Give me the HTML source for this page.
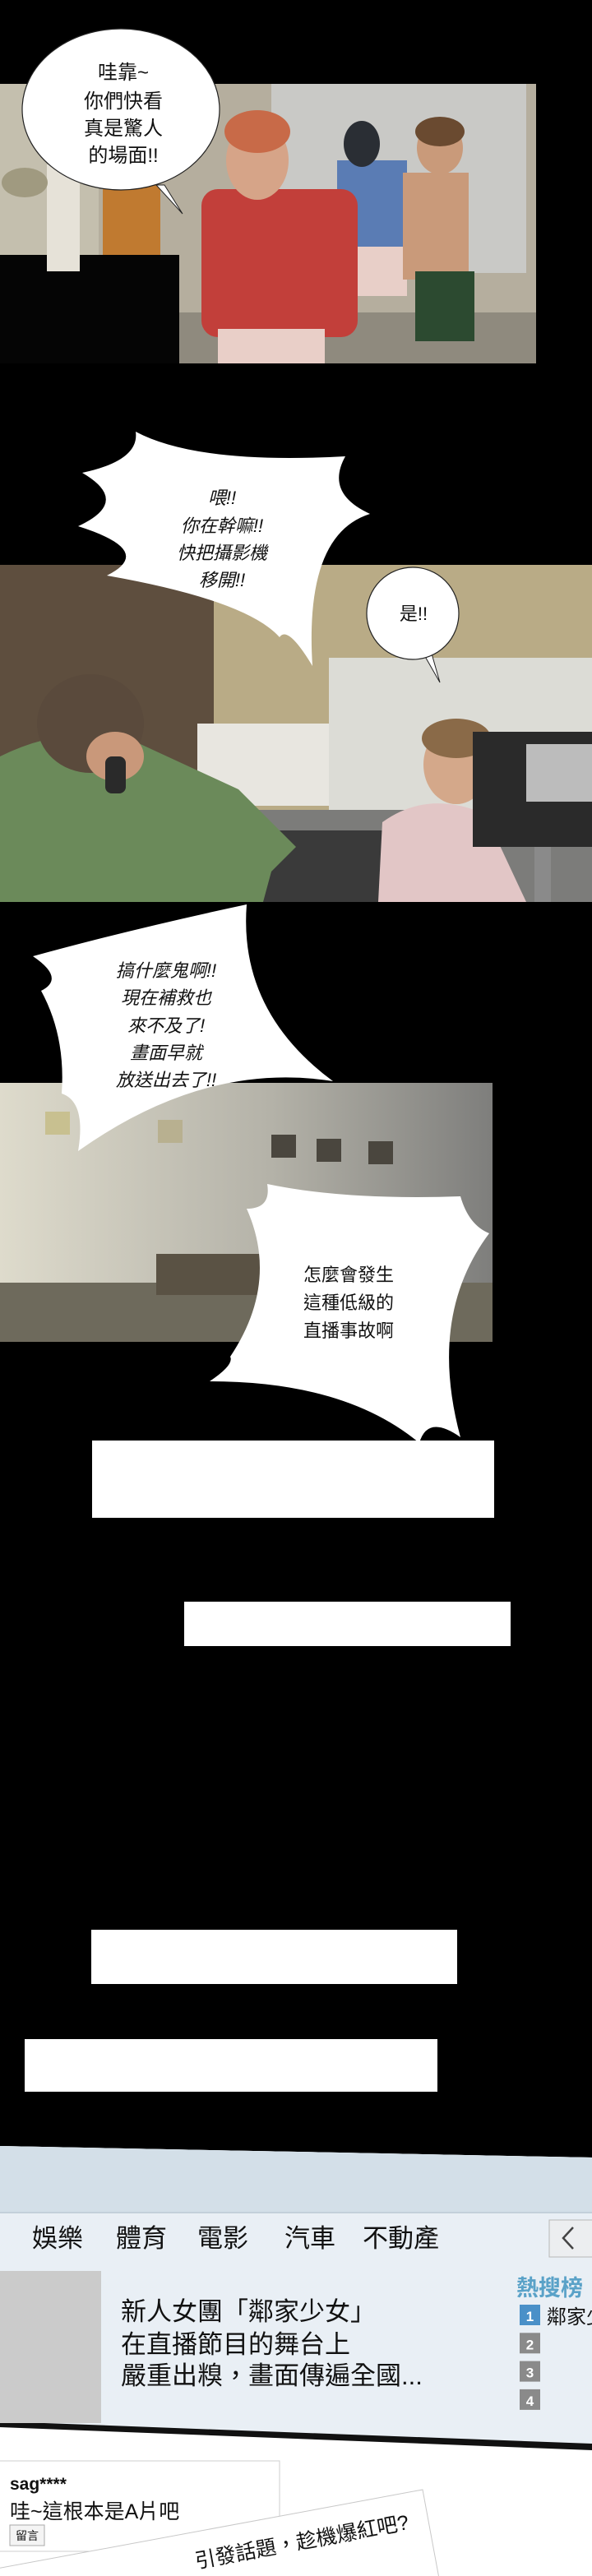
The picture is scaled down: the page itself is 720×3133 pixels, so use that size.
<!DOCTYPE html>
<html><head><meta charset="utf-8"><style>
html,body{margin:0;padding:0;background:#000;}
svg{display:block;}
.cjk{font-family:"Liberation Sans","Noto Sans CJK TC","Noto Sans CJK SC",sans-serif;}
</style></head><body>
<svg width="720" height="3133" viewBox="0 0 720 3133" xmlns="http://www.w3.org/2000/svg" class="cjk">
<rect x="0" y="0" width="720" height="3133" fill="#000"/>

<!-- Panel 1: gym -->
<g>
  <rect x="0" y="102" width="652" height="340" fill="#b5ae9e"/>
  <rect x="330" y="102" width="310" height="230" fill="#c9c9c6"/>
  <rect x="0" y="102" width="120" height="210" fill="#c4bfae"/>
  <rect x="0" y="380" width="652" height="62" fill="#8f8a7e"/>
  <rect x="0" y="310" width="218" height="132" fill="#050505"/>
  <rect x="57" y="200" width="40" height="130" fill="#e6e2d8"/>
  <ellipse cx="30" cy="222" rx="28" ry="18" fill="#a09a80"/>
  <rect x="125" y="225" width="70" height="85" fill="#c07a30"/>
  <rect x="410" y="195" width="85" height="110" fill="#5a7cb4"/>
  <ellipse cx="440" cy="175" rx="22" ry="28" fill="#2a2e34"/>
  <rect x="425" y="300" width="70" height="60" fill="#e8cfc8"/>
  <rect x="490" y="210" width="80" height="130" fill="#c99a7a"/>
  <ellipse cx="535" cy="180" rx="28" ry="32" fill="#c99a7a"/>
  <ellipse cx="535" cy="160" rx="30" ry="18" fill="#6a4a30"/>
  <rect x="505" y="330" width="72" height="85" fill="#2c4a30"/>
  <rect x="245" y="230" width="190" height="180" fill="#c23f3a" rx="20"/>
  <ellipse cx="313" cy="195" rx="38" ry="48" fill="#d6a488"/>
  <ellipse cx="313" cy="160" rx="40" ry="26" fill="#c86a48"/>
  <rect x="265" y="400" width="130" height="42" fill="#e9cfc8"/>
</g>

<!-- Panel 2: studio -->
<g>
  <rect x="0" y="687" width="720" height="410" fill="#b9ab86"/>
  <rect x="0" y="687" width="260" height="300" fill="#5e4e3e"/>
  <rect x="400" y="800" width="320" height="200" fill="#dcdcd6"/>
  <rect x="240" y="880" width="160" height="100" fill="#e8e6e0"/>
  <rect x="0" y="985" width="720" height="112" fill="#7c7c7a"/>
  <rect x="270" y="1010" width="250" height="87" fill="#3a3a3a"/>
  <path d="M0 1097 L0 920 Q80 880 160 900 L290 960 L360 1030 L330 1060 L320 1097 Z" fill="#6b8a5a"/>
  <ellipse cx="110" cy="880" rx="65" ry="60" fill="#5a4a3c"/>
  <ellipse cx="140" cy="920" rx="35" ry="30" fill="#c9987a"/>
  <rect x="128" y="920" width="25" height="45" fill="#2a2a2a" rx="8"/>
  <ellipse cx="555" cy="930" rx="40" ry="48" fill="#d4a88a"/>
  <ellipse cx="555" cy="898" rx="42" ry="24" fill="#8a6a48"/>
  <path d="M460 1097 L465 1000 Q520 960 590 990 L640 1097 Z" fill="#e2c6c6"/>
  <rect x="575" y="890" width="145" height="140" fill="#2a2a2a"/>
  <rect x="640" y="905" width="80" height="70" fill="#bcbcbc"/>
  <rect x="650" y="1030" width="20" height="67" fill="#8a8a8a"/>
</g>

<!-- Panel 3: stage rig -->
<defs>
  <linearGradient id="g3" x1="0" x2="1" y1="0" y2="0">
    <stop offset="0" stop-color="#dedbcc"/>
    <stop offset="0.55" stop-color="#b4b2a8"/>
    <stop offset="1" stop-color="#7e7e7c"/>
  </linearGradient>
</defs>
<g>
  <rect x="0" y="1317" width="599" height="315" fill="url(#g3)"/>
  <rect x="0" y="1560" width="599" height="72" fill="#6e6a5c"/>
  <rect x="190" y="1525" width="140" height="50" fill="#5a5244"/>
  <rect x="330" y="1380" width="30" height="28" fill="#4a463e"/>
  <rect x="385" y="1385" width="30" height="28" fill="#4a463e"/>
  <rect x="448" y="1388" width="30" height="28" fill="#4a463e"/>
  <rect x="55" y="1352" width="30" height="28" fill="#c8c090"/>
  <rect x="192" y="1362" width="30" height="28" fill="#b8b090"/>
</g>

<!-- Bubbles -->
<g>
  <path d="M200 225 L222 260 L190 225 Z" fill="#fff" stroke="#222" stroke-width="1"/>
  <ellipse cx="147" cy="133" rx="120" ry="98" fill="#fff" stroke="#222" stroke-width="1.2"/>
  <text x="150" y="96" font-size="24" text-anchor="middle" fill="#111">哇靠~</text>
  <text x="150" y="131" font-size="24" text-anchor="middle" fill="#111">你們快看</text>
  <text x="150" y="164" font-size="24" text-anchor="middle" fill="#111">真是驚人</text>
  <text x="150" y="197" font-size="24" text-anchor="middle" fill="#111">的場面!!</text>
</g>

<g>
  <path d="M165 525 Q240 565 420 555 Q395 600 450 625 Q370 650 380 810 Q350 760 340 775 Q300 730 130 700 Q190 670 95 640 Q160 610 100 575 Q170 560 165 525 Z" fill="#fff"/>
  <text x="270" y="613" font-size="22" text-anchor="middle" fill="#111" font-style="italic">喂!!</text>
  <text x="270" y="647" font-size="22" text-anchor="middle" fill="#111" font-style="italic">你在幹嘛!!</text>
  <text x="270" y="680" font-size="22" text-anchor="middle" fill="#111" font-style="italic">快把攝影機</text>
  <text x="270" y="713" font-size="22" text-anchor="middle" fill="#111" font-style="italic">移開!!</text>
</g>

<g>
  <path d="M515 795 L535 830 L525 795 Z" fill="#fff" stroke="#222" stroke-width="1"/>
  <ellipse cx="502" cy="746" rx="56" ry="56" fill="#fff" stroke="#222" stroke-width="1.2"/>
  <text x="503" y="754" font-size="22" text-anchor="middle" fill="#111">是!!</text>
</g>

<g>
  <path d="M40 1163 Q160 1130 300 1100 Q290 1230 405 1315 Q250 1290 95 1400 Q105 1340 75 1330 Q80 1260 50 1205 Q80 1190 40 1163 Z" fill="#fff"/>
  <text x="202" y="1188" font-size="22" text-anchor="middle" fill="#111" font-style="italic">搞什麼鬼啊!!</text>
  <text x="202" y="1221" font-size="22" text-anchor="middle" fill="#111" font-style="italic">現在補救也</text>
  <text x="202" y="1255" font-size="22" text-anchor="middle" fill="#111" font-style="italic">來不及了!</text>
  <text x="202" y="1288" font-size="22" text-anchor="middle" fill="#111" font-style="italic">畫面早就</text>
  <text x="202" y="1321" font-size="22" text-anchor="middle" fill="#111" font-style="italic">放送出去了!!</text>
</g>

<g>
  <path d="M325 1440 Q420 1460 560 1455 Q570 1490 595 1500 Q520 1600 560 1748 Q520 1720 510 1755 Q420 1680 255 1680 Q285 1660 280 1650 Q340 1560 300 1470 Q330 1470 325 1440 Z" fill="#fff"/>
  <text x="424" y="1558" font-size="22" text-anchor="middle" fill="#111">怎麼會發生</text>
  <text x="424" y="1592" font-size="22" text-anchor="middle" fill="#111">這種低級的</text>
  <text x="424" y="1626" font-size="22" text-anchor="middle" fill="#111">直播事故啊</text>
</g>

<!-- White blank boxes -->
<rect x="112" y="1752" width="489" height="94" fill="#fff"/>
<rect x="224" y="1948" width="397" height="54" fill="#fff"/>
<rect x="111" y="2347" width="445" height="66" fill="#fff"/>
<rect x="30" y="2480" width="502" height="64" fill="#fff"/>

<!-- News web page -->
<g>
  <path d="M0 2610 L720 2624 L720 3133 L0 3133 Z" fill="#fff"/>
  <path d="M0 2610 L720 2624 L720 2974 L0 2947 Z" fill="#e9eff5"/>
  <path d="M0 2610 L720 2624 L720 2690 L0 2690 Z" fill="#d3dfe8"/>
  <rect x="0" y="2690" width="720" height="2" fill="#c3d0da"/>
  <path d="M0 2945 L720 2972 L720 2980 L0 2952 Z" fill="#111"/>
  <g>
    <text x="39" y="2733" font-size="31" fill="#111">娛樂</text>
    <text x="141" y="2733" font-size="31" fill="#111">體育</text>
    <text x="240" y="2733" font-size="31" fill="#111">電影</text>
    <text x="346" y="2733" font-size="31" fill="#111">汽車</text>
    <text x="441" y="2733" font-size="31" fill="#111">不動產</text>
    <g>
      <rect x="668" y="2700" width="60" height="45" fill="#eceef0" stroke="#b8b8b8"/>
      <path d="M697 2709 L685 2722 L697 2735" fill="none" stroke="#444" stroke-width="2.5"/>
    </g>
  </g>
  <rect x="0" y="2762" width="123" height="185" fill="#cbcbcb"/>
  <g>
    <text x="147" y="2822" font-size="31" fill="#111">新人女團「鄰家少女」</text>
    <text x="147" y="2862" font-size="31" fill="#111">在直播節目的舞台上</text>
    <text x="147" y="2900" font-size="31" fill="#111">嚴重出糗，畫面傳遍全國...</text>
  </g>
  <text x="628" y="2792" font-size="27" fill="#5aa2c8" font-weight="bold">熱搜榜</text>
  <g id="ranks"></g>
  <text x="665" y="2826" font-size="24" fill="#111">鄰家少</text>
</g>

<!-- Comment cards -->
<g>
  <rect x="-2" y="2993" width="342" height="110" fill="#fff" stroke="#cfcfcf"/>
  <text x="12" y="3028" font-size="21" font-weight="bold" fill="#111">sag****</text>
  <text x="12" y="3063" font-size="25" fill="#111">哇~這根本是A片吧</text>
  <g>
    <rect x="12" y="3071" width="42" height="25" fill="#f4f4f4" stroke="#aaa"/>
    <text x="33" y="3089" font-size="14" text-anchor="middle" fill="#111">留言</text>
  </g>
</g>
<g transform="rotate(-10.5 514 3028)">
  <rect x="-20" y="3028" width="534" height="140" fill="#fff" stroke="#c8c8c8"/>
  <text x="490" y="3072" font-size="25" text-anchor="end" fill="#111">引發話題，趁機爆紅吧?</text>
</g>
</svg>
<script>
const rankLabels = ["1","2","3","4"];
const rankHighlight = [true,false,false,false];
const g = document.getElementById('ranks');
const NS = 'http://www.w3.org/2000/svg';
rankLabels.forEach((lab,i)=>{
  const r = document.createElementNS(NS,'rect');
  
  
  r.setAttribute('x', 632); r.setAttribute('y', 2803 + i*34.3);
  r.setAttribute('width', 25); r.setAttribute('height', 25);
  r.setAttribute('fill', rankHighlight[i] ? '#4a90c8' : '#8a8a8a');
  g.appendChild(r);
  const t = document.createElementNS(NS,'text');
  
  
  t.setAttribute('x', 644.5); t.setAttribute('y', 2823 + i*34.3);
  t.setAttribute('font-size', 17); t.setAttribute('text-anchor','middle');
  t.setAttribute('fill','#fff'); t.setAttribute('font-weight','bold');
  t.textContent = lab;
  g.appendChild(t);
});
</script>
</body></html>
